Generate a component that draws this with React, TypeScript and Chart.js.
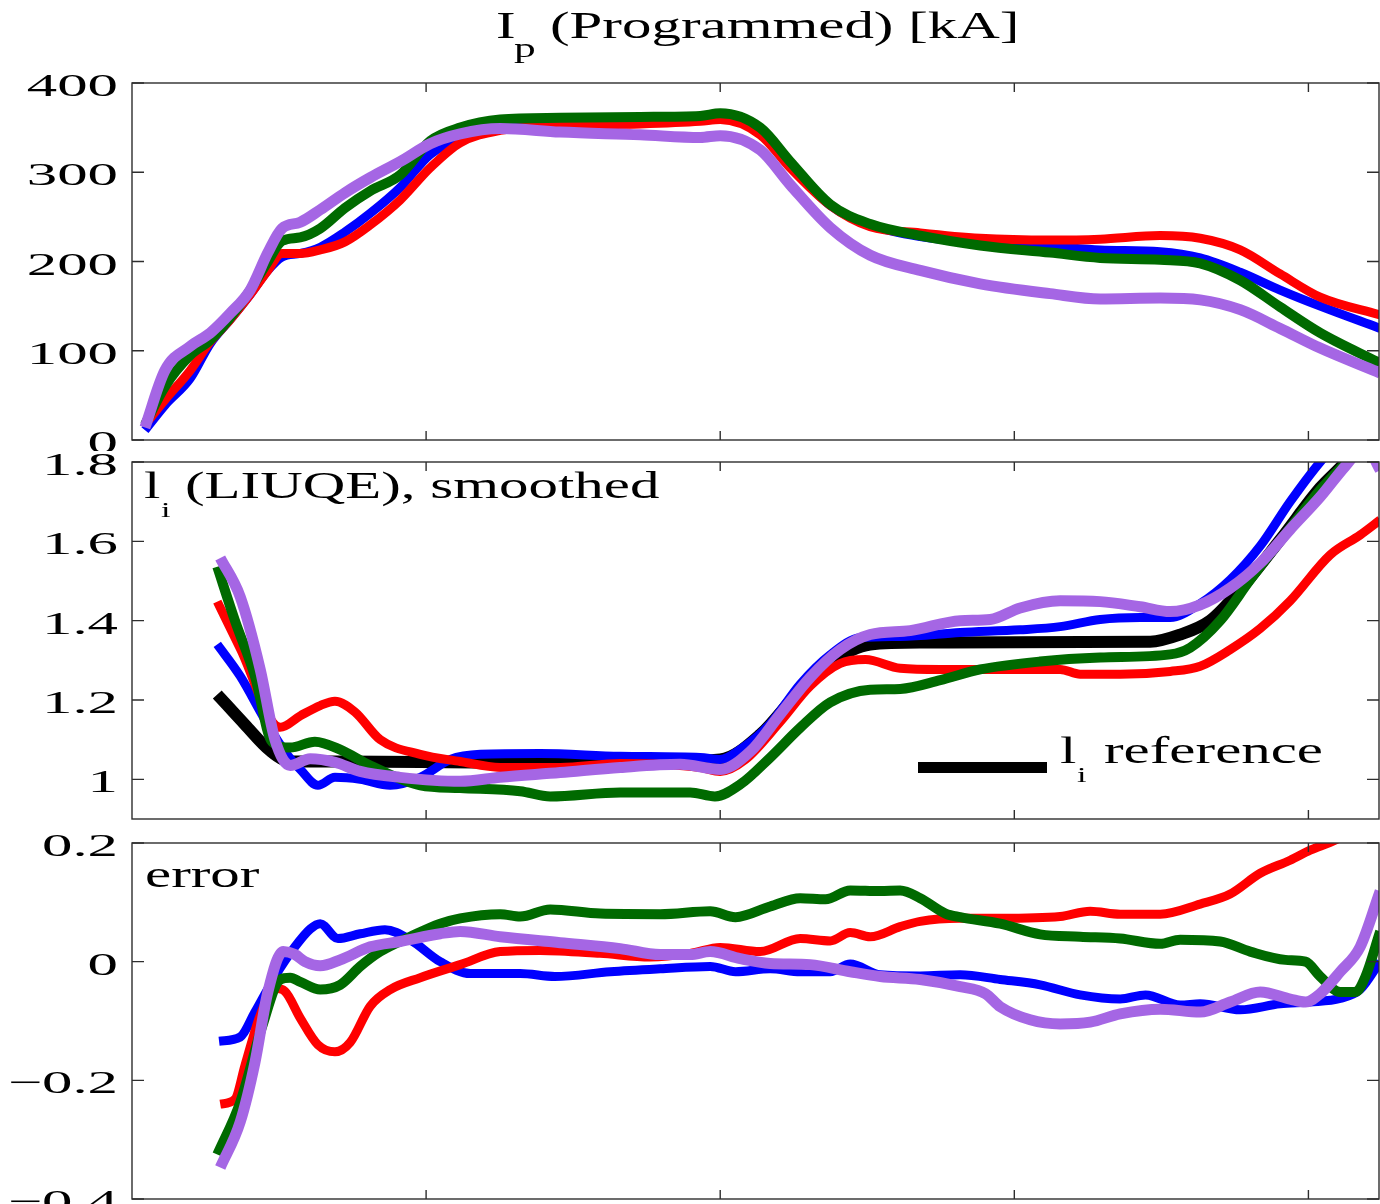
import { useEffect, useRef } from "react";
import { Chart, registerables } from "chart.js";

Chart.register(...registerables);

// ---- shared time axis (s) ----
const X_MAX = 2.12;
const X_TICKS = [0.5, 1, 1.5, 2];

// ---- Ip (programmed) [kA] ----
const IP_T = [0.022, 0.056, 0.099, 0.133, 0.167, 0.201, 0.231, 0.255, 0.286, 0.32, 0.362, 0.405, 0.456, 0.507, 0.558, 0.626, 0.728, 0.864, 0.966, 1.0, 1.068, 1.119, 1.187, 1.255, 1.34, 1.442, 1.561, 1.646, 1.748, 1.816, 1.884, 1.952, 2.02, 2.122];
const IP_BLUE = [11, 39, 69, 108, 135, 163, 190, 205, 209, 216, 233, 254, 283, 320, 338, 350, 354, 357, 360, 362, 345, 308, 263, 241, 228, 221, 217, 213, 211, 204, 188, 168, 150, 125];
const IP_RED = [17, 45, 78, 110, 135, 163, 190, 209, 209, 213, 222, 241, 269, 305, 333, 347, 352, 354, 357, 359, 342, 305, 263, 239, 232, 226, 224, 225, 229, 226, 213, 186, 160, 140];
const IP_GREEN = [17, 60, 95, 112, 137, 168, 200, 223, 227, 237, 260, 279, 297, 335, 350, 359, 361, 362, 363, 366, 350, 312, 264, 242, 229, 218, 210, 204, 202, 198, 179, 149, 120, 86];
const IP_PURPLE = [14, 78, 105, 120, 142, 168, 210, 237, 244, 258, 277, 294, 312, 332, 343, 349, 345, 342, 339, 341, 325, 286, 238, 207, 190, 175, 164, 158, 159, 157, 146, 125, 103, 75];
const IP_TICKS = [0, 100, 200, 300, 400];

// ---- li (LIUQE), smoothed ----
const LI_REF_T = [0.145, 0.192, 0.235, 0.269, 0.354, 0.626, 0.83, 1.0, 1.068, 1.136, 1.187, 1.255, 1.34, 1.731, 1.782, 1.833, 1.884, 1.952, 2.02, 2.063, 2.122];
const LI_REF = [1.214, 1.138, 1.072, 1.045, 1.045, 1.042, 1.042, 1.05, 1.113, 1.226, 1.294, 1.34, 1.345, 1.347, 1.365, 1.4, 1.478, 1.604, 1.735, 1.8, 1.91];
const LI_BLUE_T = [0.145, 0.184, 0.226, 0.26, 0.286, 0.316, 0.345, 0.388, 0.439, 0.49, 0.541, 0.592, 0.694, 0.83, 0.966, 1.0, 1.034, 1.085, 1.136, 1.187, 1.238, 1.306, 1.408, 1.51, 1.578, 1.646, 1.714, 1.765, 1.816, 1.867, 1.918, 1.969, 2.02, 2.071, 2.122];
const LI_BLUE = [1.34, 1.26, 1.15, 1.07, 1.025, 0.985, 1.005, 1.0, 0.985, 1.005, 1.05, 1.063, 1.065, 1.058, 1.055, 1.05, 1.075, 1.14, 1.24, 1.314, 1.357, 1.36, 1.37, 1.377, 1.385, 1.403, 1.408, 1.408, 1.443, 1.503, 1.588, 1.7, 1.8, 1.88, 1.95];
const LI_RED_T = [0.145, 0.184, 0.252, 0.286, 0.32, 0.345, 0.379, 0.422, 0.49, 0.558, 0.626, 0.728, 0.83, 0.966, 1.0, 1.043, 1.102, 1.153, 1.204, 1.247, 1.306, 1.374, 1.476, 1.578, 1.612, 1.68, 1.765, 1.816, 1.867, 1.918, 1.969, 2.037, 2.088, 2.122];
const LI_RED = [1.448, 1.33, 1.131, 1.16, 1.186, 1.197, 1.17, 1.1, 1.063, 1.045, 1.03, 1.03, 1.04, 1.03, 1.02, 1.05, 1.145, 1.235, 1.292, 1.302, 1.28, 1.277, 1.277, 1.277, 1.265, 1.265, 1.272, 1.285, 1.327, 1.38, 1.45, 1.566, 1.616, 1.654];
const LI_GREEN_T = [0.145, 0.175, 0.209, 0.238, 0.269, 0.311, 0.354, 0.405, 0.49, 0.558, 0.66, 0.711, 0.83, 0.949, 0.991, 1.034, 1.085, 1.136, 1.187, 1.255, 1.306, 1.374, 1.442, 1.544, 1.646, 1.765, 1.799, 1.85, 1.901, 1.969, 2.02, 2.071, 2.122];
const LI_GREEN = [1.536, 1.4, 1.26, 1.095, 1.08, 1.095, 1.075, 1.035, 0.985, 0.978, 0.97, 0.957, 0.967, 0.967, 0.957, 0.987, 1.055, 1.13, 1.194, 1.226, 1.228, 1.25, 1.277, 1.297, 1.307, 1.315, 1.332, 1.4, 1.503, 1.634, 1.73, 1.81, 1.89];
const LI_PURPLE_T = [0.15, 0.184, 0.218, 0.243, 0.269, 0.303, 0.345, 0.388, 0.456, 0.558, 0.626, 0.728, 0.83, 0.932, 1.0, 1.051, 1.102, 1.153, 1.204, 1.255, 1.323, 1.408, 1.459, 1.51, 1.578, 1.646, 1.714, 1.765, 1.816, 1.867, 1.918, 1.969, 2.02, 2.063, 2.097, 2.122];
const LI_PURPLE = [1.558, 1.46, 1.277, 1.1, 1.035, 1.052, 1.043, 1.02, 1.005, 0.995, 1.005, 1.017, 1.03, 1.038, 1.025, 1.07, 1.164, 1.257, 1.327, 1.365, 1.375, 1.4, 1.403, 1.432, 1.45, 1.448, 1.435, 1.423, 1.44, 1.482, 1.545, 1.63, 1.712, 1.79, 1.84, 1.78];
const LI_TICKS = [1, 1.2, 1.4, 1.6, 1.8];

// ---- error ----
const ERR_BLUE_T = [0.148, 0.184, 0.209, 0.243, 0.277, 0.303, 0.32, 0.35, 0.388, 0.43, 0.473, 0.524, 0.575, 0.66, 0.719, 0.813, 0.898, 0.983, 1.026, 1.085, 1.136, 1.187, 1.221, 1.272, 1.34, 1.408, 1.476, 1.544, 1.612, 1.68, 1.723, 1.782, 1.816, 1.884, 1.952, 2.003, 2.054, 2.088, 2.122];
const ERR_BLUE = [-0.134, -0.127, -0.085, -0.025, 0.025, 0.055, 0.064, 0.039, 0.047, 0.054, 0.037, 0.0, -0.02, -0.02, -0.025, -0.017, -0.012, -0.008, -0.017, -0.012, -0.017, -0.017, -0.004, -0.022, -0.024, -0.022, -0.03, -0.039, -0.056, -0.063, -0.056, -0.073, -0.071, -0.081, -0.071, -0.068, -0.062, -0.047, 0.0];
const ERR_RED_T = [0.15, 0.175, 0.192, 0.218, 0.243, 0.26, 0.286, 0.316, 0.345, 0.371, 0.405, 0.439, 0.49, 0.558, 0.626, 0.694, 0.796, 0.881, 0.949, 1.0, 1.068, 1.136, 1.187, 1.221, 1.255, 1.306, 1.34, 1.408, 1.476, 1.578, 1.629, 1.68, 1.748, 1.816, 1.867, 1.918, 1.969, 2.003, 2.046, 2.122];
const ERR_RED = [-0.24, -0.232, -0.175, -0.09, -0.045, -0.05, -0.095, -0.14, -0.152, -0.136, -0.075, -0.047, -0.027, -0.005, 0.017, 0.019, 0.014, 0.008, 0.014, 0.024, 0.017, 0.039, 0.035, 0.049, 0.042, 0.059, 0.068, 0.073, 0.073, 0.076, 0.085, 0.08, 0.08, 0.097, 0.114, 0.149, 0.171, 0.188, 0.205, 0.25];
const ERR_GREEN_T = [0.145, 0.184, 0.221, 0.252, 0.269, 0.286, 0.32, 0.354, 0.388, 0.422, 0.473, 0.524, 0.558, 0.626, 0.66, 0.711, 0.796, 0.898, 0.983, 1.026, 1.085, 1.136, 1.179, 1.221, 1.272, 1.306, 1.34, 1.383, 1.408, 1.476, 1.544, 1.612, 1.68, 1.748, 1.782, 1.85, 1.901, 1.961, 1.995, 2.02, 2.054, 2.08, 2.097, 2.122];
const ERR_GREEN = [-0.325, -0.237, -0.11, -0.03, -0.027, -0.034, -0.047, -0.039, -0.008, 0.017, 0.042, 0.064, 0.073, 0.08, 0.076, 0.088, 0.081, 0.08, 0.085, 0.075, 0.093, 0.107, 0.105, 0.12, 0.119, 0.12, 0.107, 0.081, 0.075, 0.064, 0.046, 0.042, 0.039, 0.03, 0.037, 0.034, 0.017, 0.003, 0.0, -0.025, -0.051, -0.051, -0.025, 0.051];
const ERR_PURPLE_T = [0.15, 0.184, 0.209, 0.231, 0.257, 0.277, 0.294, 0.32, 0.354, 0.405, 0.456, 0.524, 0.558, 0.626, 0.728, 0.83, 0.898, 0.949, 0.983, 1.034, 1.085, 1.153, 1.221, 1.272, 1.34, 1.408, 1.451, 1.476, 1.527, 1.578, 1.629, 1.68, 1.748, 1.816, 1.867, 1.918, 1.969, 1.995, 2.02, 2.054, 2.088, 2.122];
const ERR_PURPLE = [-0.347, -0.27, -0.17, -0.051, 0.017, 0.012, 0.0, -0.007, 0.003, 0.025, 0.034, 0.047, 0.051, 0.042, 0.032, 0.022, 0.012, 0.012, 0.017, 0.005, -0.003, -0.005, -0.017, -0.025, -0.03, -0.042, -0.054, -0.076, -0.098, -0.105, -0.102, -0.088, -0.08, -0.085, -0.068, -0.051, -0.063, -0.068, -0.054, -0.017, 0.025, 0.119];
const ERR_TICKS = [-0.4, -0.2, 0, 0.2];

// ---- styling ----
const BLUE = "#0000ff";
const RED = "#ff0000";
const GREEN = "#006a00";
const PURPLE = "#a566e4";
const BLACK = "#000000";
const FRAME = "#2e2e2e";
const SERIF = '"Liberation Serif", "Times New Roman", Times, serif';
const TEXT_SIZE = 38;
const SUB_P_SIZE = 28;
const SUB_I_SIZE = 22;
const TEXT_SX = 1.55;
const TICK_SIZE = 32;
const TICK_SX = 1.9;
const CANVAS_W = 1392;
const PAD_LEFT = 132;
const PAD_RIGHT = 13;
const X_TICK_LEN = 9;
const Y_TICK_LEN = 12;

type Series = { t: number[]; v: number[]; color: string; width: number };
type PanelSpec = {
  top: number;
  height: number;
  padTop: number;
  padBottom: number;
  yMin: number;
  yMax: number;
  yTicks: number[];
  series: Series[];
  extra?: (ctx: CanvasRenderingContext2D, area: { left: number; top: number; right: number; bottom: number }) => void;
};

function text(ctx: CanvasRenderingContext2D, s: string, x: number, y: number, size: number, sx: number, align: CanvasTextAlign = "left") {
  ctx.save();
  ctx.font = `${size}px ${SERIF}`;
  ctx.textAlign = align;
  ctx.textBaseline = "alphabetic";
  ctx.fillStyle = "#000";
  ctx.translate(x, y);
  ctx.scale(sx, 1);
  ctx.fillText(s, 0, 0);
  ctx.restore();
}

function fmtTick(v: number): string {
  const s = String(Math.abs(Math.round(v * 1000) / 1000));
  return v < 0 ? "\u2212" + s : s;
}

const PANELS: PanelSpec[] = [
  {
    top: 0,
    height: 451,
    padTop: 83,
    padBottom: 11,
    yMin: 0,
    yMax: 400,
    yTicks: IP_TICKS,
    series: [
      { t: IP_T, v: IP_PURPLE, color: PURPLE, width: 11 },
      { t: IP_T, v: IP_GREEN, color: GREEN, width: 10 },
      { t: IP_T, v: IP_RED, color: RED, width: 9 },
      { t: IP_T, v: IP_BLUE, color: BLUE, width: 9 },
    ],
    extra: (ctx, a) => {
      text(ctx, "I", a.left + 364, a.top - 45, TEXT_SIZE, TEXT_SX);
      text(ctx, "p", a.left + 382, a.top - 26, SUB_P_SIZE, TEXT_SX);
      text(ctx, "(Programmed) [kA]", a.left + 418, a.top - 45, TEXT_SIZE, TEXT_SX);
    },
  },
  {
    top: 451,
    height: 381,
    padTop: 11,
    padBottom: 13,
    yMin: 0.9,
    yMax: 1.8,
    yTicks: LI_TICKS,
    series: [
      { t: LI_PURPLE_T, v: LI_PURPLE, color: PURPLE, width: 11 },
      { t: LI_GREEN_T, v: LI_GREEN, color: GREEN, width: 10 },
      { t: LI_RED_T, v: LI_RED, color: RED, width: 9 },
      { t: LI_BLUE_T, v: LI_BLUE, color: BLUE, width: 9 },
      { t: LI_REF_T, v: LI_REF, color: BLACK, width: 12 },
    ],
    extra: (ctx, a) => {
      text(ctx, "l", a.left + 12, a.top + 36, TEXT_SIZE, TEXT_SX);
      text(ctx, "i", a.left + 29, a.top + 55, SUB_I_SIZE, TEXT_SX);
      text(ctx, "(LIUQE), smoothed", a.left + 53, a.top + 36, TEXT_SIZE, TEXT_SX);
      ctx.fillStyle = BLACK;
      ctx.fillRect(a.left + 786, a.top + 300, 129, 11);
      text(ctx, "l", a.left + 928, a.top + 301, TEXT_SIZE, TEXT_SX);
      text(ctx, "i", a.left + 945, a.top + 320, SUB_I_SIZE, TEXT_SX);
      text(ctx, "reference", a.left + 972, a.top + 301, TEXT_SIZE, TEXT_SX);
    },
  },
  {
    top: 832,
    height: 372,
    padTop: 11,
    padBottom: 5,
    yMin: -0.4,
    yMax: 0.2,
    yTicks: ERR_TICKS,
    series: [
      { t: ERR_PURPLE_T, v: ERR_PURPLE, color: PURPLE, width: 11 },
      { t: ERR_GREEN_T, v: ERR_GREEN, color: GREEN, width: 10 },
      { t: ERR_RED_T, v: ERR_RED, color: RED, width: 9 },
      { t: ERR_BLUE_T, v: ERR_BLUE, color: BLUE, width: 9 },
    ],
    extra: (ctx, a) => {
      text(ctx, "error", a.left + 13, a.top + 44, TEXT_SIZE, TEXT_SX);
    },
  },
];

function framePlugin(spec: PanelSpec) {
  return {
    id: "frameAndTicks",
    afterDatasetsDraw(chart: any) {
      const ctx: CanvasRenderingContext2D = chart.ctx;
      const a = chart.chartArea;
      const xs = chart.scales.x;
      const ys = chart.scales.y;
      ctx.save();
      ctx.strokeStyle = FRAME;
      ctx.lineWidth = 1.4;
      ctx.strokeRect(a.left, a.top, a.right - a.left, a.bottom - a.top);
      ctx.beginPath();
      X_TICKS.forEach((t) => {
        const px = xs.getPixelForValue(t);
        ctx.moveTo(px, a.top);
        ctx.lineTo(px, a.top + X_TICK_LEN);
        ctx.moveTo(px, a.bottom);
        ctx.lineTo(px, a.bottom - X_TICK_LEN);
      });
      spec.yTicks.forEach((v) => {
        const py = ys.getPixelForValue(v);
        ctx.moveTo(a.left, py);
        ctx.lineTo(a.left + Y_TICK_LEN, py);
        ctx.moveTo(a.right, py);
        ctx.lineTo(a.right - Y_TICK_LEN, py);
      });
      ctx.stroke();
      spec.yTicks.forEach((v) => {
        const py = ys.getPixelForValue(v);
        text(ctx, fmtTick(v), a.left - 14, py + 13, TICK_SIZE, TICK_SX, "right");
      });
      if (spec.extra) spec.extra(ctx, a);
      ctx.restore();
    },
  };
}

function Panel({ spec }: { spec: PanelSpec }) {
  const ref = useRef<HTMLCanvasElement | null>(null);
  useEffect(() => {
    if (!ref.current) return;
    const chart = new Chart(ref.current, {
      type: "line",
      data: {
        datasets: spec.series.map((s) => ({
          data: s.t.map((t, i) => ({ x: t, y: s.v[i] })),
          borderColor: s.color,
          backgroundColor: s.color,
          borderWidth: s.width,
          pointRadius: 0,
          fill: false,
          cubicInterpolationMode: "monotone" as const,
          borderJoinStyle: "round" as const,
          clip: 0,
        })),
      },
      options: {
        responsive: false,
        animation: false,
        events: [],
        layout: { padding: { left: PAD_LEFT, right: PAD_RIGHT, top: spec.padTop, bottom: spec.padBottom } },
        scales: {
          x: { type: "linear", min: 0, max: X_MAX, display: false },
          y: { type: "linear", min: spec.yMin, max: spec.yMax, display: false },
        },
        plugins: { legend: { display: false }, tooltip: { enabled: false }, title: { display: false } },
      },
      plugins: [framePlugin(spec)],
    } as any);
    return () => chart.destroy();
  }, [spec]);
  return (
    <canvas
      ref={ref}
      width={CANVAS_W}
      height={spec.height}
      style={{ position: "absolute", left: 0, top: spec.top, width: CANVAS_W, height: spec.height }}
    />
  );
}

export default function App() {
  return (
    <div
      style={{
        position: "absolute",
        left: 0,
        top: 0,
        width: 1380,
        height: 1204,
        overflow: "hidden",
        background: "#ffffff",
      }}
    >
      {PANELS.map((p, i) => (
        <Panel key={i} spec={p} />
      ))}
    </div>
  );
}
